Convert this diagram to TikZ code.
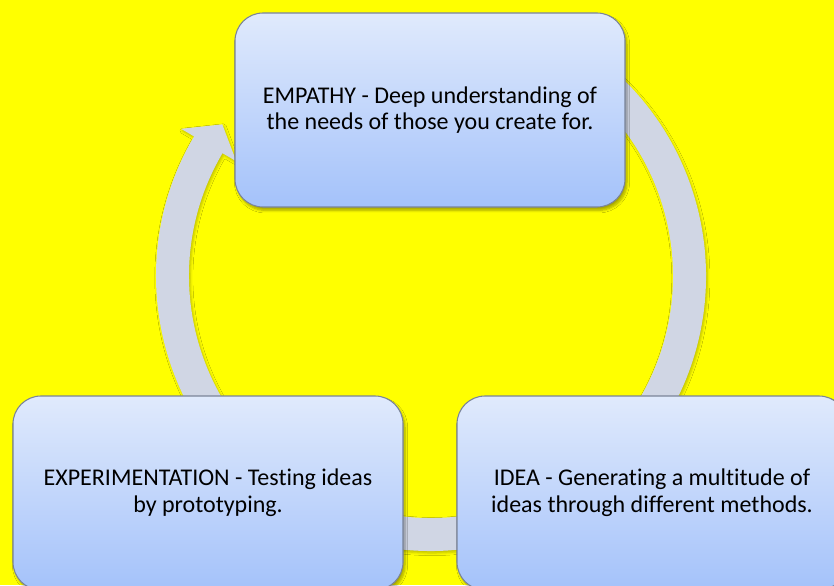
\documentclass[tikz,border=0pt]{standalone}
\usepackage{fontspec}
\setmainfont[Ligatures=NoCommon]{Carlito}
\usetikzlibrary{calc,shadows.blur}

\definecolor{sunyellow}{RGB}{255,255,0}
\definecolor{ringgray}{RGB}{208,214,228}
\definecolor{boxtop}{RGB}{224,234,252}
\definecolor{boxbottom}{RGB}{164,194,250}
\definecolor{boxline}{RGB}{122,132,152}

\begin{document}
\begin{tikzpicture}[x=0.75pt,y=-0.75pt,
	stage/.style={rectangle,rounded corners=21pt,draw=boxline,line width=0.8pt,
		top color=boxtop,bottom color=boxbottom,
		minimum width=292.5pt,minimum height=145.5pt,
		align=center,font=\fontsize{18}{20}\selectfont,
		blur shadow={shadow xshift=1.5pt,shadow yshift=-2.5pt,shadow opacity=35,shadow blur steps=6}},
	ring/.style={fill=ringgray,
		blur shadow={shadow xshift=1pt,shadow yshift=-1.5pt,shadow opacity=25,shadow blur steps=4}}]
	\useasboundingbox (0,0) rectangle (834,585);
	\clip (0,0) rectangle (834,585);
	\fill [sunyellow] (0,0) rectangle (834,585);

	% the cycle ring, its arrow head points into the top box
	\coordinate (hub) at (431,276);
	\path [ring] ($(hub)+(-415:275)$) arc [start angle=-415,end angle=-149.5,radius=275]
		-- ($(hub)+(-149.5:290)$) -- ($(hub)+(-144:258)$) -- ($(hub)+(-149.5:226)$)
		-- ($(hub)+(-149.5:242)$) arc [start angle=-149.5,end angle=-415,radius=242] -- cycle;

	% the three stages
	\node [stage] (empathy) at (430,110) {EMPATHY - Deep understanding of\\the needs of those you create for.};
	\node [stage] (idea) at (652,493) {IDEA - Generating a multitude of\\ideas through different methods.};
	\node [stage] (experiment) at (208,493) {EXPERIMENTATION - Testing ideas\\by prototyping.};
\end{tikzpicture}
\end{document}
